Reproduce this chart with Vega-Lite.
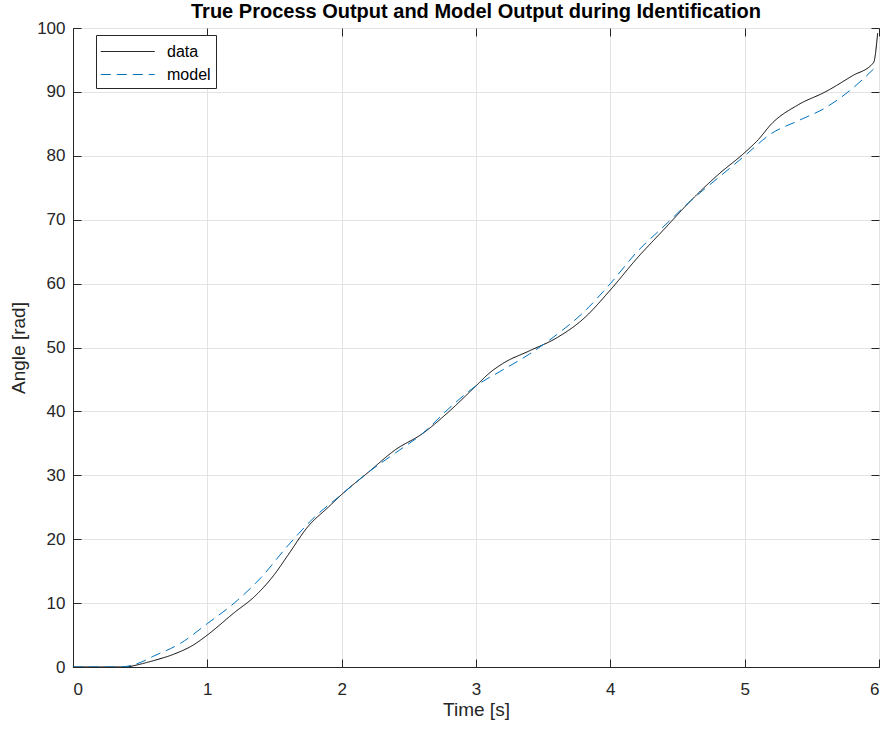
{
  "$schema": "https://vega.github.io/schema/vega-lite/v6.json",
  "width": 806,
  "height": 639,
  "autosize": {"type": "none"},
  "padding": {"left": 73, "top": 28, "right": 5, "bottom": 64},
  "background": "white",
  "config": {
    "font": "Liberation Sans",
    "view": {"stroke": "#262626", "strokeWidth": 1}
  },
  "title": {
    "text": "True Process Output and Model Output during Identification",
    "fontSize": 20,
    "fontWeight": "bold",
    "color": "#000000",
    "anchor": "middle",
    "offset": -3
  },
  "data": {
    "values": [
      {"t": 0, "v": 0, "s": "data"},
      {"t": 0.2, "v": 0, "s": "data"},
      {"t": 0.4, "v": 0, "s": "data"},
      {"t": 0.45, "v": 0.2, "s": "data"},
      {"t": 0.6, "v": 1.0, "s": "data"},
      {"t": 0.75, "v": 2.0, "s": "data"},
      {"t": 0.9, "v": 3.5, "s": "data"},
      {"t": 1.0, "v": 5.0, "s": "data"},
      {"t": 1.2, "v": 8.5, "s": "data"},
      {"t": 1.35, "v": 11.0, "s": "data"},
      {"t": 1.5, "v": 14.5, "s": "data"},
      {"t": 1.6, "v": 17.5, "s": "data"},
      {"t": 1.75, "v": 22.0, "s": "data"},
      {"t": 1.9, "v": 25.0, "s": "data"},
      {"t": 2.0, "v": 27.0, "s": "data"},
      {"t": 2.2, "v": 30.5, "s": "data"},
      {"t": 2.4, "v": 34.0, "s": "data"},
      {"t": 2.6, "v": 36.5, "s": "data"},
      {"t": 2.8, "v": 40.0, "s": "data"},
      {"t": 3.0, "v": 44.0, "s": "data"},
      {"t": 3.1, "v": 46.0, "s": "data"},
      {"t": 3.2, "v": 47.5, "s": "data"},
      {"t": 3.4, "v": 49.5, "s": "data"},
      {"t": 3.6, "v": 51.5, "s": "data"},
      {"t": 3.8, "v": 54.5, "s": "data"},
      {"t": 4.0, "v": 59.0, "s": "data"},
      {"t": 4.2, "v": 64.0, "s": "data"},
      {"t": 4.4, "v": 68.5, "s": "data"},
      {"t": 4.6, "v": 73.0, "s": "data"},
      {"t": 4.8, "v": 77.0, "s": "data"},
      {"t": 5.0, "v": 80.5, "s": "data"},
      {"t": 5.1, "v": 82.5, "s": "data"},
      {"t": 5.2, "v": 85.0, "s": "data"},
      {"t": 5.4, "v": 88.0, "s": "data"},
      {"t": 5.6, "v": 90.0, "s": "data"},
      {"t": 5.8, "v": 92.5, "s": "data"},
      {"t": 5.96, "v": 94.6, "s": "data"},
      {"t": 5.99, "v": 99.2, "s": "data"},
      {"t": 0, "v": 0, "s": "model"},
      {"t": 0.2, "v": 0, "s": "model"},
      {"t": 0.35, "v": 0, "s": "model"},
      {"t": 0.5, "v": 0.7, "s": "model"},
      {"t": 0.6, "v": 1.7, "s": "model"},
      {"t": 0.8, "v": 3.7, "s": "model"},
      {"t": 1.0, "v": 6.8, "s": "model"},
      {"t": 1.2, "v": 10.0, "s": "model"},
      {"t": 1.4, "v": 14.0, "s": "model"},
      {"t": 1.6, "v": 19.0, "s": "model"},
      {"t": 1.8, "v": 23.5, "s": "model"},
      {"t": 2.0, "v": 27.0, "s": "model"},
      {"t": 2.2, "v": 30.5, "s": "model"},
      {"t": 2.4, "v": 33.5, "s": "model"},
      {"t": 2.6, "v": 36.5, "s": "model"},
      {"t": 2.8, "v": 40.5, "s": "model"},
      {"t": 3.0, "v": 44.0, "s": "model"},
      {"t": 3.2, "v": 46.5, "s": "model"},
      {"t": 3.4, "v": 49.0, "s": "model"},
      {"t": 3.6, "v": 52.0, "s": "model"},
      {"t": 3.8, "v": 55.5, "s": "model"},
      {"t": 4.0, "v": 60.0, "s": "model"},
      {"t": 4.2, "v": 65.0, "s": "model"},
      {"t": 4.4, "v": 69.0, "s": "model"},
      {"t": 4.6, "v": 73.0, "s": "model"},
      {"t": 4.8, "v": 76.5, "s": "model"},
      {"t": 5.0, "v": 80.0, "s": "model"},
      {"t": 5.2, "v": 83.5, "s": "model"},
      {"t": 5.4, "v": 85.5, "s": "model"},
      {"t": 5.6, "v": 87.5, "s": "model"},
      {"t": 5.8, "v": 90.5, "s": "model"},
      {"t": 5.98, "v": 94.0, "s": "model"}
    ]
  },
  "layer": [
    {
      "mark": {"type": "line", "strokeWidth": 1, "opacity": 0},
      "encoding": {
        "x": {
          "field": "t",
          "type": "quantitative",
          "scale": {"domain": [0, 6], "nice": false, "zero": false},
          "axis": {
            "orient": "top",
            "values": [0, 1, 2, 3, 4, 5, 6],
            "labels": false,
            "grid": false,
            "domain": false,
            "title": null,
            "tickColor": "#262626",
            "tickSize": -8
          }
        },
        "y": {
          "field": "v",
          "type": "quantitative",
          "scale": {"domain": [0, 100], "nice": false},
          "axis": {
            "orient": "right",
            "values": [0, 10, 20, 30, 40, 50, 60, 70, 80, 90, 100],
            "labels": false,
            "grid": false,
            "domain": false,
            "title": null,
            "tickColor": "#262626",
            "tickSize": -8
          }
        },
        "detail": {"field": "s", "type": "nominal"}
      }
    },
    {
      "mark": {"type": "line", "strokeWidth": 1, "clip": true, "interpolate": "monotone"},
      "encoding": {
        "x": {
          "field": "t",
          "type": "quantitative",
          "scale": {"domain": [0, 6], "nice": false, "zero": false},
          "axis": {
            "title": "Time [s]",
            "values": [0, 1, 2, 3, 4, 5, 6],
            "format": "d",
            "grid": true,
            "gridColor": "#e3e3e3",
            "domainColor": "#262626",
            "tickColor": "#262626",
            "tickSize": -8,
            "labelFontSize": 17,
            "labelColor": "#262626",
            "labelPadding": 22,
            "titleFontSize": 19,
            "titleFontWeight": "normal",
            "titleColor": "#262626",
            "titlePadding": 3
          }
        },
        "y": {
          "field": "v",
          "type": "quantitative",
          "scale": {"domain": [0, 100], "nice": false},
          "axis": {
            "title": "Angle [rad]",
            "values": [0, 10, 20, 30, 40, 50, 60, 70, 80, 90, 100],
            "grid": true,
            "gridColor": "#e3e3e3",
            "domainColor": "#262626",
            "tickColor": "#262626",
            "tickSize": -8,
            "labelFontSize": 17,
            "labelColor": "#262626",
            "labelPadding": 16,
            "titleFontSize": 19,
            "titleFontWeight": "normal",
            "titleColor": "#262626",
            "titlePadding": 8
          }
        },
        "color": {
          "field": "s",
          "type": "nominal",
          "scale": {"domain": ["data", "model"], "range": ["#000000", "#0072BD"]},
          "legend": {
            "title": null,
            "orient": "none",
            "legendX": 23,
            "legendY": 7,
            "symbolType": "M-1.08,0H3.89",
            "symbolSize": 470,
            "symbolStrokeWidth": 1,
            "labelFontSize": 16,
            "labelColor": "#000000",
            "fillColor": "white",
            "strokeColor": "#262626",
            "padding": 5,
            "rowPadding": 3,
            "labelOffset": 43
          }
        },
        "strokeDash": {
          "field": "s",
          "type": "nominal",
          "scale": {"domain": ["data", "model"], "range": [[1, 0], [10, 6]]},
          "legend": null
        }
      }
    }
  ],
  "resolve": {"axis": {"x": "independent", "y": "independent"}}
}
